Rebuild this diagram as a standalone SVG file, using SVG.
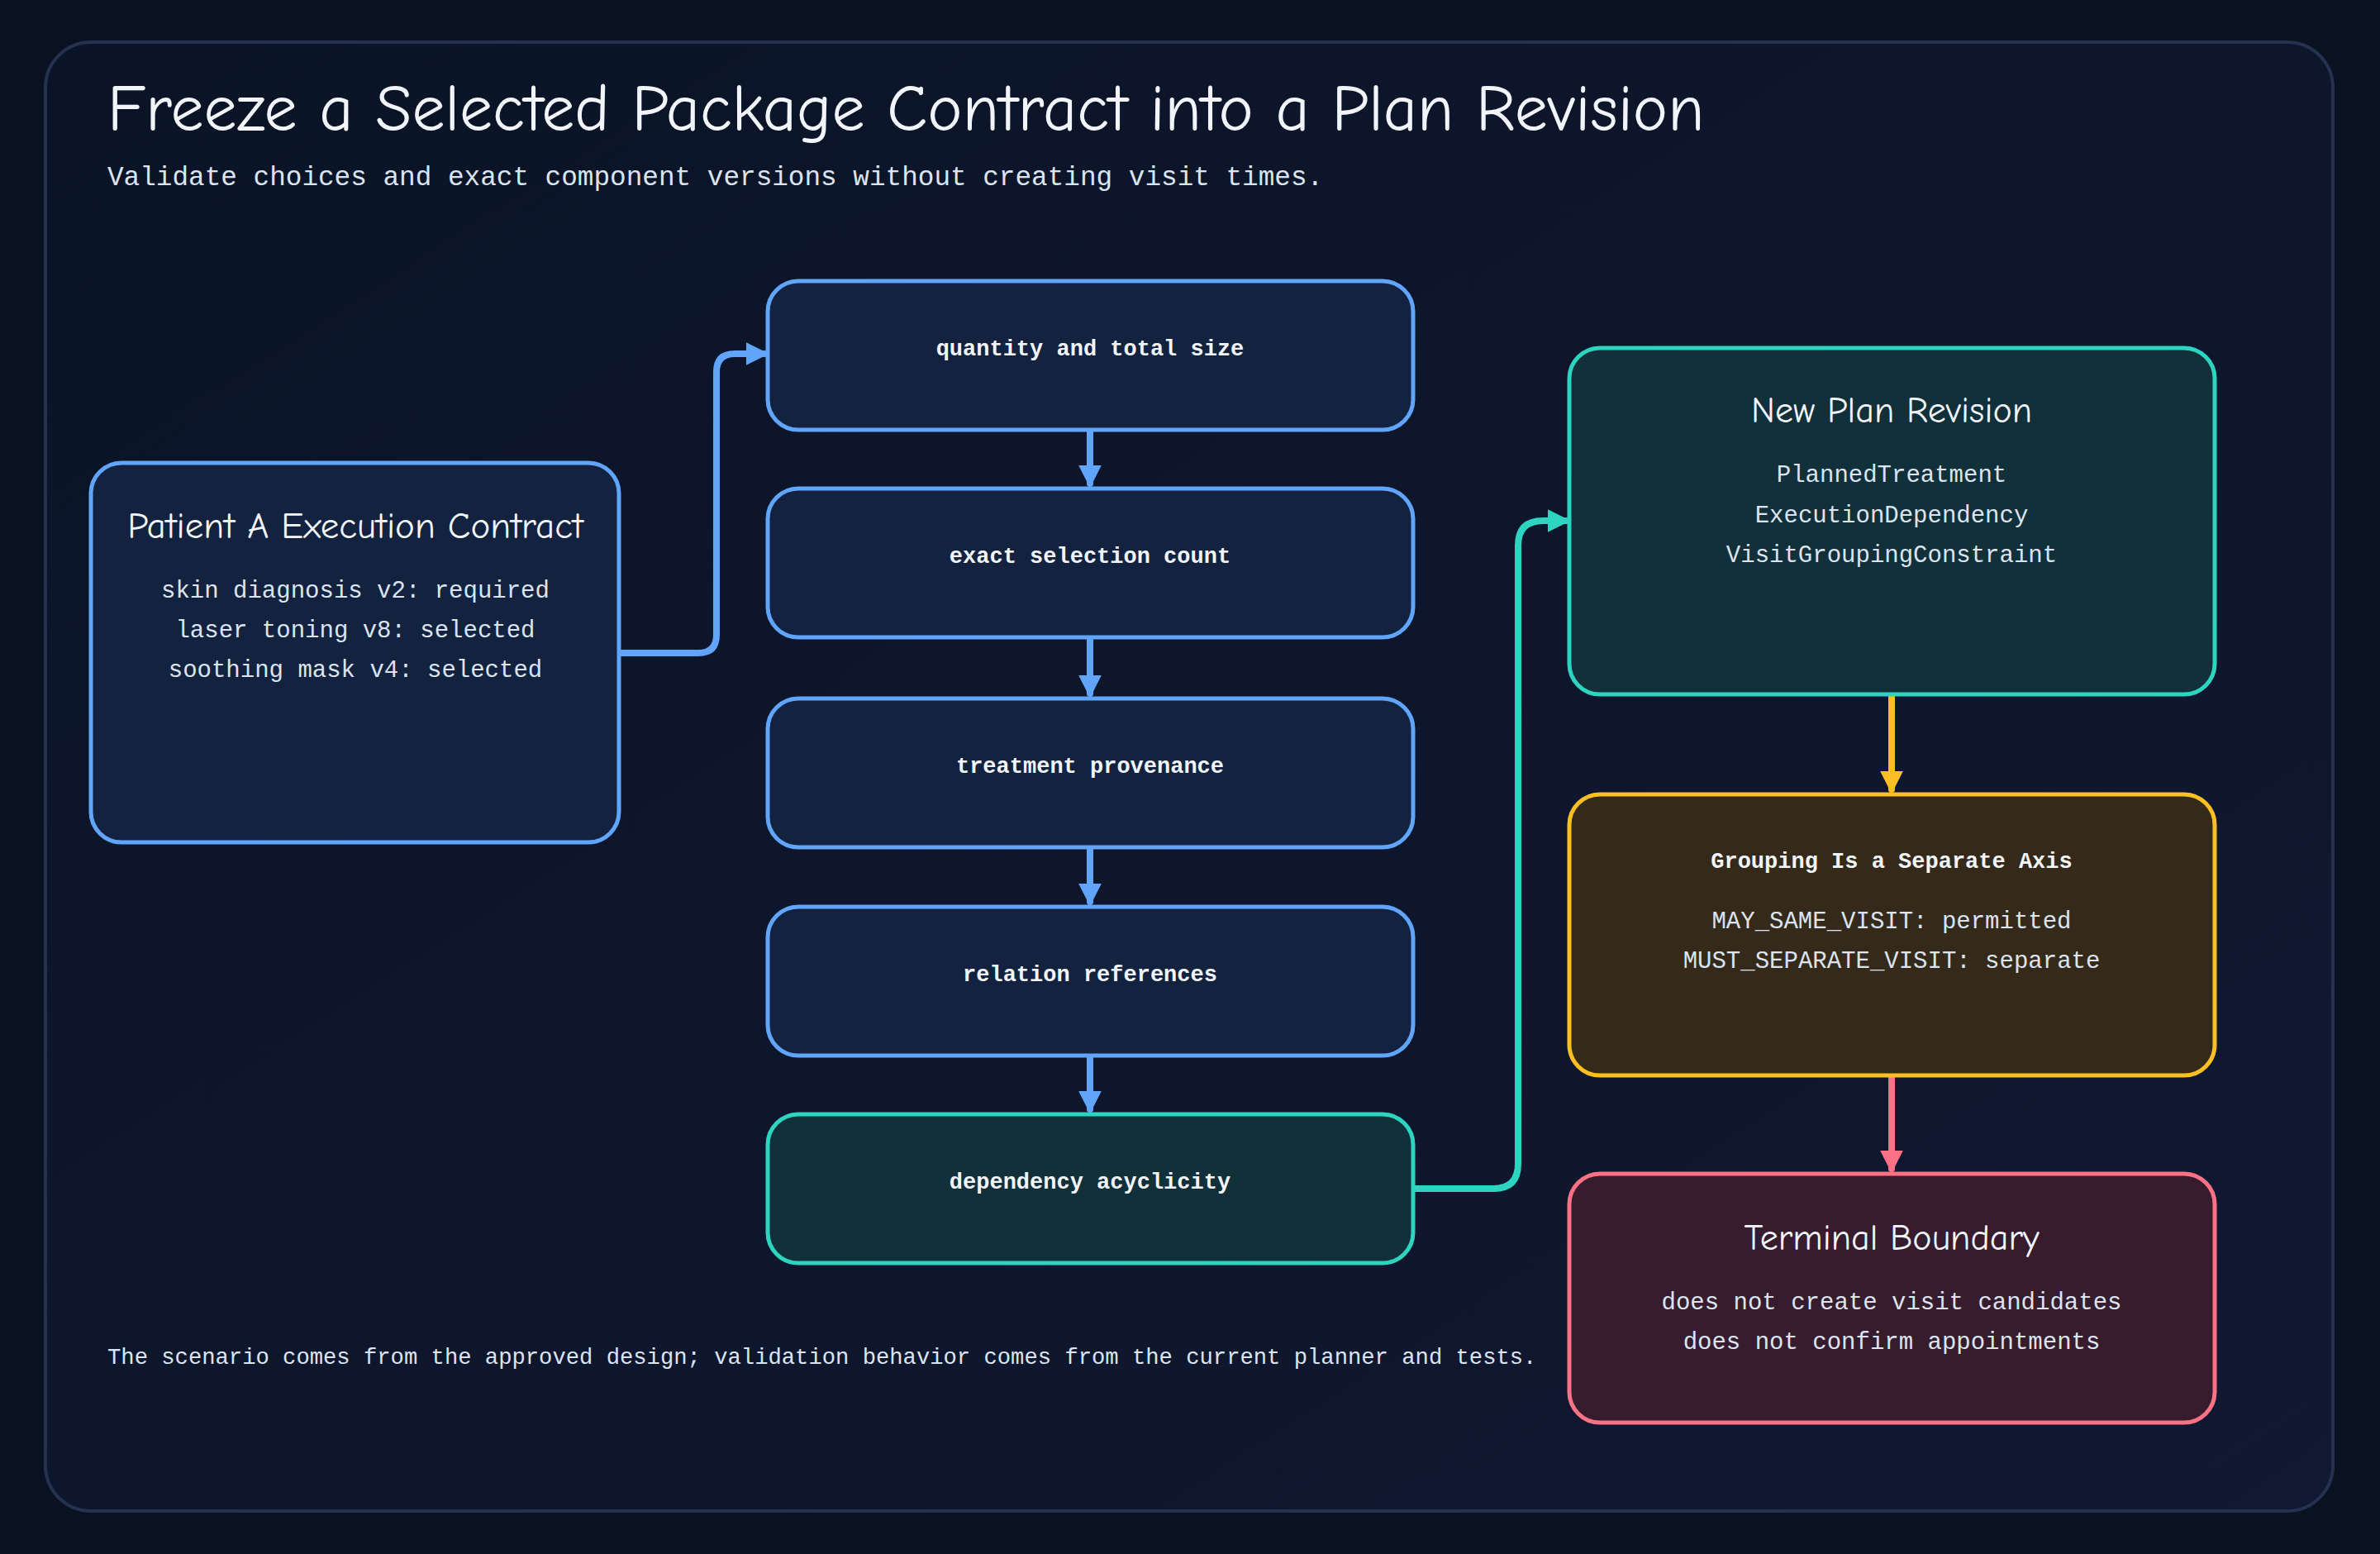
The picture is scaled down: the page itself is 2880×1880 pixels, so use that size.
<svg xmlns="http://www.w3.org/2000/svg" width="2880" height="1880" viewBox="0 0 2880 1880">
<defs>
<linearGradient id="bg" x1="0" y1="0" x2="1" y2="1"><stop offset="0" stop-color="#0a1426"/><stop offset="1" stop-color="#111832"/></linearGradient>
<marker id="ab" viewBox="0 0 10 10" refX="8" refY="5" markerWidth="3.5" markerHeight="3.5" orient="auto"><path d="M0,0 L10,5 L0,10 z" fill="#60a5fa"/></marker>
<marker id="at" viewBox="0 0 10 10" refX="8" refY="5" markerWidth="3.5" markerHeight="3.5" orient="auto"><path d="M0,0 L10,5 L0,10 z" fill="#2dd4bf"/></marker>
<marker id="ay" viewBox="0 0 10 10" refX="8" refY="5" markerWidth="3.5" markerHeight="3.5" orient="auto"><path d="M0,0 L10,5 L0,10 z" fill="#fbbf24"/></marker>
<marker id="ap" viewBox="0 0 10 10" refX="8" refY="5" markerWidth="3.5" markerHeight="3.5" orient="auto"><path d="M0,0 L10,5 L0,10 z" fill="#fb7185"/></marker>
</defs>
<style>
.hand{font-family:"Comic Neue","Open Sans","DejaVu Sans",sans-serif;fill:#f1f5f9}
.mono{font-family:"Liberation Mono","DejaVu Sans Mono",monospace;fill:#dbe4f0}
.lbl{font-family:"Liberation Mono","DejaVu Sans Mono",monospace;font-weight:bold;font-size:27px;fill:#f1f5f9;text-anchor:middle}
.blue{fill:#13223f;stroke:#60a5fa;stroke-width:5}
.teal{fill:#11303a;stroke:#2dd4bf;stroke-width:5}
.yel{fill:#352a1a;stroke:#fbbf24;stroke-width:5}
.pink{fill:#361c2d;stroke:#fb7185;stroke-width:5}
.c{fill:none;stroke-width:8;stroke-linecap:round}
.mid{text-anchor:middle}
</style>
<rect width="2880" height="1880" fill="#0a1222"/>
<rect x="55" y="51" width="2768" height="1777" rx="55" fill="url(#bg)" stroke="#24324f" stroke-width="4"/>
<text class="hand" x="130" y="158" font-size="80">Freeze a Selected Package Contract into a Plan Revision</text>
<text class="mono" x="130" y="224" font-size="32.7" fill="#b8c4d6">Validate choices and exact component versions without creating visit times.</text>

<g id="connectors">
<path class="c" stroke="#60a5fa" marker-end="url(#ab)" d="M749,790 H845 Q867,790 867,768 V450 Q867,428 889,428 H925"/>
<path class="c" stroke="#60a5fa" marker-end="url(#ab)" d="M1319,520 V585"/>
<path class="c" stroke="#60a5fa" marker-end="url(#ab)" d="M1319,771 V839"/>
<path class="c" stroke="#60a5fa" marker-end="url(#ab)" d="M1319,1025 V1091"/>
<path class="c" stroke="#60a5fa" marker-end="url(#ab)" d="M1319,1277 V1342"/>
<path class="c" stroke="#2dd4bf" marker-end="url(#at)" d="M1710,1438 H1807 Q1837,1438 1837,1408 V660 Q1837,630 1867,630 H1895"/>
<path class="c" stroke="#fbbf24" marker-end="url(#ay)" d="M2289,840 V955"/>
<path class="c" stroke="#fb7185" marker-end="url(#ap)" d="M2289,1301 V1414"/>
</g>

<g id="patient">
<rect class="blue" x="110" y="560" width="639" height="459" rx="37"/>
<text class="hand mid" x="430" y="651" font-size="45">Patient A Execution Contract</text>
<text class="mono mid" x="430" y="723" font-size="29">skin diagnosis v2: required</text>
<text class="mono mid" x="430" y="771" font-size="29">laser toning v8: selected</text>
<text class="mono mid" x="430" y="819" font-size="29">soothing mask v4: selected</text>
</g>
<g id="quantity"><rect class="blue" x="929" y="340" width="781" height="180" rx="37"/><text class="lbl" x="1319" y="430">quantity and total size</text></g>
<g id="selection"><rect class="blue" x="929" y="591" width="781" height="180" rx="37"/><text class="lbl" x="1319" y="681">exact selection count</text></g>
<g id="provenance"><rect class="blue" x="929" y="845" width="781" height="180" rx="37"/><text class="lbl" x="1319" y="935">treatment provenance</text></g>
<g id="relation"><rect class="blue" x="929" y="1097" width="781" height="180" rx="37"/><text class="lbl" x="1319" y="1187">relation references</text></g>
<g id="acyclicity"><rect class="teal" x="929" y="1348" width="781" height="180" rx="37"/><text class="lbl" x="1319" y="1438">dependency acyclicity</text></g>

<g id="plan">
<rect class="teal" x="1899" y="421" width="781" height="419" rx="37"/>
<text class="hand mid" x="2289" y="511" font-size="44">New Plan Revision</text>
<text class="mono mid" x="2289" y="583" font-size="29">PlannedTreatment</text>
<text class="mono mid" x="2289" y="632" font-size="29">ExecutionDependency</text>
<text class="mono mid" x="2289" y="680" font-size="29">VisitGroupingConstraint</text>
</g>
<g id="grouping">
<rect class="yel" x="1899" y="961" width="781" height="340" rx="37"/>
<text class="lbl" x="2289" y="1050">Grouping Is a Separate Axis</text>
<text class="mono mid" x="2289" y="1123" font-size="29">MAY_SAME_VISIT: permitted</text>
<text class="mono mid" x="2289" y="1171" font-size="29">MUST_SEPARATE_VISIT: separate</text>
</g>
<g id="terminal">
<rect class="pink" x="1899" y="1420" width="781" height="301" rx="37"/>
<text class="hand mid" x="2289" y="1512" font-size="44">Terminal Boundary</text>
<text class="mono mid" x="2289" y="1584" font-size="29">does not create visit candidates</text>
<text class="mono mid" x="2289" y="1632" font-size="29">does not confirm appointments</text>
</g>
<text class="mono" x="130" y="1650" font-size="27.2" fill="#b8c4d6">The scenario comes from the approved design; validation behavior comes from the current planner and tests.</text>
</svg>
